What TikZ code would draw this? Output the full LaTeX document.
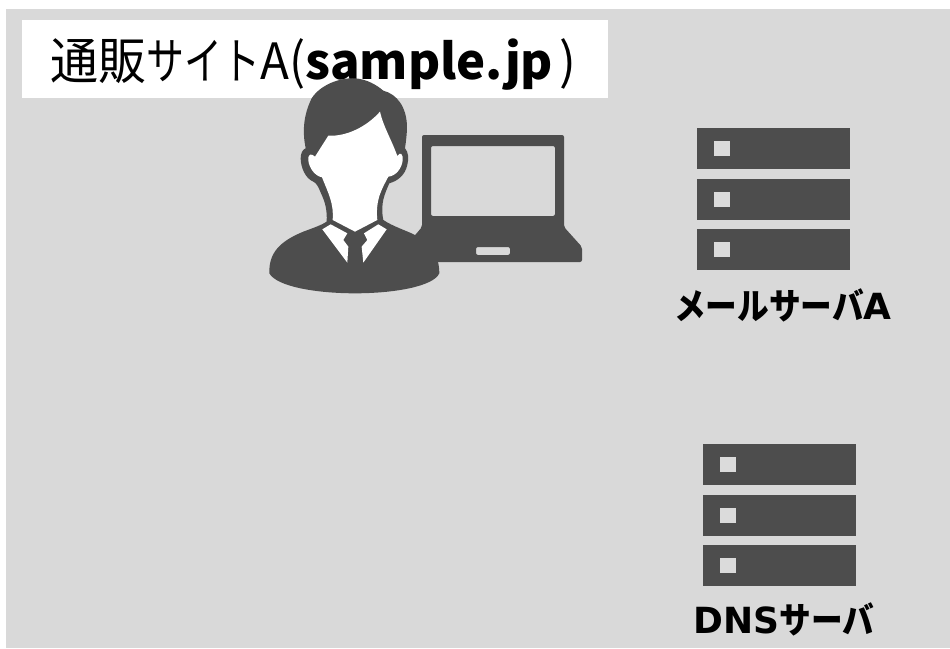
\documentclass[tikz,border=0pt]{standalone}
\usepackage{fontspec}
\newfontfamily\jp{Noto Sans CJK JP}
\newfontfamily\jpk[FakeStretch=0.96]{Noto Sans CJK JP}
\newfontfamily\jpn[FakeStretch=0.76]{Noto Sans CJK JP}
\newfontfamily\jpa[FakeStretch=0.95]{Noto Sans CJK JP}
\newfontfamily\jpl[FakeStretch=0.88]{Noto Sans CJK JP}
\newfontfamily\lat{DejaVu Sans}
\definecolor{bgc}{HTML}{D9D9D9}
\definecolor{dark}{HTML}{4D4D4D}
\tikzset{
  px/.style={x=1pt,y=-1pt},
  unit/.style={fill=dark,draw=none},
  led/.style={fill=bgc!95!white,draw=none},
  lab/.style={inner sep=0pt,anchor=base,font=\jpl\bfseries\fontsize{36}{40}\selectfont,text=black}
}
\newcommand{\serverstack}[2]{%
  \begin{scope}[shift={(#1,#2)}]
    \foreach \y in {0,51,101}{
      \fill[unit] (0,\y) rectangle (152.5,\y+41);
      \fill[led] (17,\y+12.5) rectangle (33,\y+28);
    }
  \end{scope}}
\begin{document}
\begin{tikzpicture}[px]
\useasboundingbox (0,0) rectangle (950,648);
\fill[white] (0,0) rectangle (950,648);
\fill[bgc] (6,9) rectangle (950,648);
\fill[white] (22,20) rectangle (608,98);
\node[inner sep=0pt,anchor=base west] (title) at (50,79) {\fontsize{50}{56}\selectfont{\jpk 通販}{\jpn サイト}{\jpa A(}{\fontsize{49}{56}\selectfont\jp\bfseries sample.jp}\kern6pt{\jp )}};
% laptop
\fill[dark,even odd rule,rounded corners=2pt]
  (422,135) -- (564,135) -- (564,227) -- (582,247) -- (582,262) -- (405,262) -- (405,247) -- (422,227) -- cycle
  (431,146) -- (431,216) -- (555,216) -- (555,146) -- cycle
  (476,247) -- (476,255) -- (510,255) -- (510,247) -- cycle;
% person
\begin{scope}[shift={(260,70)},x=0.3333pt,y=-0.3333pt]
  \fill[dark] (28,600) .. controls (30,540) and (70,510) .. (130,485)
    .. controls (165,472) and (185,465) .. (200,455)
    .. controls (202,420) and (195,395) .. (183,370)
    .. controls (175,350) and (170,340) .. (160,335)
    .. controls (135,325) and (122,290) .. (122,265)
    .. controls (122,250) and (128,238) .. (137,235)
    .. controls (128,190) and (128,140) .. (155,85)
    .. controls (180,45) and (240,22) .. (285,25)
    .. controls (320,27) and (350,45) .. (370,62)
    .. controls (410,72) and (440,110) .. (441,170)
    .. controls (441,190) and (438,215) .. (435,235)
    .. controls (445,245) and (447,265) .. (442,285)
    .. controls (435,315) and (415,332) .. (388,340)
    .. controls (375,370) and (360,400) .. (370,450)
    .. controls (400,470) and (435,480) .. (465,495)
    .. controls (510,515) and (538,555) .. (538,610)
    .. controls (520,650) and (400,670) .. (285,670)
    .. controls (170,670) and (50,650) .. (28,610) -- cycle;
  \fill[white] (205,197) .. controls (260,200) and (320,170) .. (360,125)
    .. controls (370,170) and (395,210) .. (412,258)
    .. controls (420,245) and (430,250) .. (428,272)
    .. controls (425,295) and (408,318) .. (385,320)
    .. controls (370,350) and (345,385) .. (352,450)
    -- (285,485) -- (218,450)
    .. controls (222,400) and (205,370) .. (186,322)
    .. controls (165,318) and (148,295) .. (145,272)
    .. controls (143,250) and (155,250) .. (165,260) -- cycle;
  \fill[white] (187,478) -- (212,463) -- (262,490) -- (250,510) -- (265,530) -- (262,578) -- cycle;
  \fill[white] (380,478) -- (355,463) -- (312,490) -- (322,510) -- (305,530) -- (310,578) -- cycle;
\end{scope}
% servers
\serverstack{697}{128}
\serverstack{703}{444}
\node[lab] (mail) at (783,319) {メールサーバ{\lat A}};
\node[lab] (dns) at (784,633) {{\lat DNS}サーバ};
\end{tikzpicture}
\end{document}
